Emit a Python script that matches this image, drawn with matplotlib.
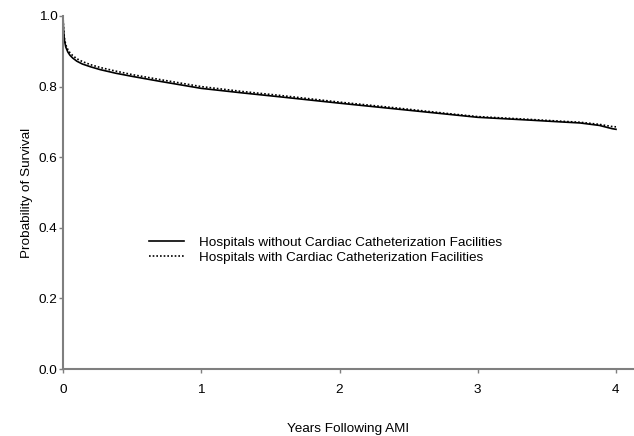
import numpy as np
import matplotlib
matplotlib.use('Agg')
import matplotlib.pyplot as plt

plt.rcParams['font.family'] = ['Liberation Sans', 'DejaVu Sans']

# survival curves (years, probability)
years_without = [0, 0.004, 0.01, 0.02, 0.035, 0.05, 0.07, 0.1, 0.14, 0.2, 0.27, 0.38,
                 0.5, 0.7, 1.0, 1.3, 1.57, 2.0, 2.4, 2.8, 3.0, 3.38, 3.6, 3.74,
                 3.88, 3.97, 4.0]
surv_without = [1.0, 0.96, 0.932, 0.912, 0.898, 0.889, 0.881, 0.872, 0.864, 0.856, 0.848,
                0.838, 0.829, 0.815, 0.795, 0.782, 0.771, 0.753, 0.737, 0.721, 0.713,
                0.705, 0.700, 0.697, 0.690, 0.681, 0.679]

years_with = [0, 0.004, 0.01, 0.02, 0.035, 0.05, 0.07, 0.1, 0.14, 0.2, 0.27, 0.38,
              0.5, 0.7, 1.0, 1.3, 1.57, 2.0, 2.4, 2.8, 3.0, 3.38, 3.6, 3.74,
              3.88, 3.97, 4.0]
surv_with = [1.0, 0.965, 0.938, 0.918, 0.905, 0.896, 0.888, 0.879, 0.871, 0.862, 0.854,
             0.844, 0.834, 0.820, 0.800, 0.786, 0.775, 0.756, 0.740, 0.723, 0.715,
             0.707, 0.702, 0.699, 0.693, 0.687, 0.686]

label_without = 'Hospitals without Cardiac Catheterization Facilities'
label_with = 'Hospitals with Cardiac Catheterization Facilities'

fig = plt.figure(figsize=(6.34, 4.36), dpi=100)
ax = fig.add_axes([63 / 634, 1 - 369 / 436, 1 - 63 / 634, 353 / 436])

ax.plot(years_without, surv_without, color='black', linewidth=1.2, label=label_without)
ax.plot(years_with, surv_with, color='black', linewidth=1.2, linestyle=(0, (1, 1.2)),
        label=label_with)

ax.set_xlim(0, 571 / 138.25)
ax.set_ylim(0, 1.0)
ax.set_xticks([0, 1, 2, 3, 4])
ax.set_yticks([0.0, 0.2, 0.4, 0.6, 0.8, 1.0])
ax.set_yticklabels(['0.0', '0.2', '0.4', '0.6', '0.8', '1.0'])

for side in ['top', 'right']:
    ax.spines[side].set_visible(False)
for side in ['left', 'bottom']:
    ax.spines[side].set_color('#7f7f7f')
    ax.spines[side].set_linewidth(1.5)

ax.tick_params(axis='both', direction='out', length=3, width=1, color='#7f7f7f',
               labelsize=9.7, labelcolor='black')
ax.tick_params(axis='x', pad=8)
ax.tick_params(axis='y', pad=1)

ax.set_xlabel('Years Following AMI', fontsize=9.7, labelpad=19)
ax.set_ylabel('Probability of Survival', fontsize=9.7, labelpad=4)

ax.legend(loc='center left', bbox_to_anchor=(142 / 634, 1 - 250 / 436),
          bbox_transform=fig.transFigure, frameon=False, fontsize=9.7,
          handlelength=2.6, handletextpad=1.15, labelspacing=0.2, borderpad=0)

fig.savefig('out.png', dpi=100)
